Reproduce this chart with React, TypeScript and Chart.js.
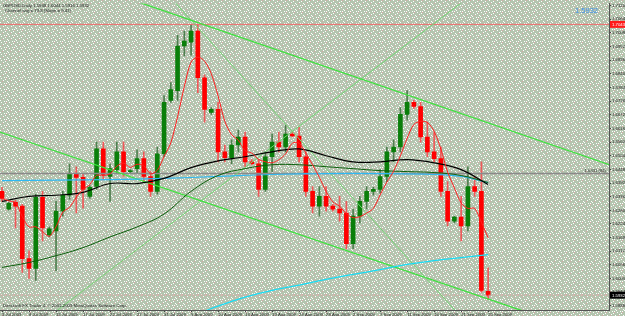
import React, { useEffect, useRef } from 'react';
import { Chart, registerables } from 'chart.js';
Chart.register(...registerables);

// Daily GBPUSD bars, index 0 = 3 Jul 2009 ... index 72 = 25 Sep 2009 (Sunday bars included)
const opens = [1.6358,1.6285,1.6313,1.6297,1.6082,1.6042,1.6333,1.6179,1.6196,1.6277,1.6342,1.6431,1.6415,1.6337,1.6378,1.6532,1.6419,1.6447,1.6520,1.6439,1.6451,1.6492,1.6419,1.6358,1.6512,1.6731,1.6771,1.6954,1.6970,1.7015,1.6824,1.6682,1.6694,1.6520,1.6496,1.6548,1.6581,1.6479,1.6471,1.6366,1.6500,1.6560,1.6540,1.6593,1.6585,1.6500,1.6358,1.6297,1.6337,1.6297,1.6285,1.6269,1.6143,1.6256,1.6317,1.6358,1.6366,1.6419,1.6520,1.6540,1.6674,1.6723,1.6706,1.6581,1.6520,1.6492,1.6358,1.6236,1.6252,1.6216,1.6378,1.6358,1.5948];
const highs = [1.6374,1.6313,1.6321,1.6305,1.6114,1.6346,1.6358,1.6212,1.6317,1.6358,1.6471,1.6459,1.6431,1.6382,1.6560,1.6560,1.6471,1.6560,1.6560,1.6447,1.6528,1.6520,1.6439,1.6540,1.6751,1.6804,1.6998,1.7015,1.7043,1.7040,1.6836,1.6702,1.6723,1.6548,1.6569,1.6609,1.6601,1.6488,1.6488,1.6520,1.6593,1.6601,1.6629,1.6601,1.6621,1.6520,1.6378,1.6378,1.6378,1.6305,1.6337,1.6317,1.6285,1.6337,1.6378,1.6374,1.6447,1.6540,1.6569,1.6702,1.6771,1.6731,1.6723,1.6642,1.6601,1.6540,1.6398,1.6256,1.6337,1.6459,1.6419,1.6479,1.6044];
const lows = [1.6317,1.6281,1.6208,1.6025,1.6001,1.5993,1.6155,1.6171,1.6033,1.6256,1.6325,1.6269,1.6289,1.6329,1.6366,1.6406,1.6317,1.6431,1.6419,1.6431,1.6431,1.6398,1.6337,1.6346,1.6500,1.6723,1.6731,1.6913,1.6917,1.6763,1.6642,1.6674,1.6479,1.6479,1.6471,1.6520,1.6459,1.6467,1.6337,1.6358,1.6439,1.6520,1.6520,1.6581,1.6479,1.6337,1.6269,1.6256,1.6277,1.6277,1.6236,1.6123,1.6123,1.6228,1.6285,1.6342,1.6350,1.6398,1.6479,1.6520,1.6650,1.6698,1.6560,1.6500,1.6479,1.6337,1.6216,1.6228,1.6155,1.6196,1.6337,1.5944,1.5916];
const closes = [1.6329,1.6309,1.6297,1.6082,1.6042,1.6333,1.6208,1.6204,1.6277,1.6342,1.6431,1.6415,1.6366,1.6374,1.6532,1.6427,1.6451,1.6520,1.6439,1.6443,1.6492,1.6419,1.6358,1.6512,1.6723,1.6775,1.6954,1.6974,1.7015,1.6824,1.6694,1.6694,1.6520,1.6496,1.6548,1.6581,1.6479,1.6471,1.6366,1.6500,1.6560,1.6540,1.6593,1.6585,1.6500,1.6358,1.6297,1.6337,1.6297,1.6285,1.6269,1.6143,1.6256,1.6317,1.6358,1.6366,1.6419,1.6520,1.6540,1.6674,1.6723,1.6706,1.6581,1.6520,1.6492,1.6358,1.6236,1.6252,1.6216,1.6378,1.6358,1.5952,1.5932];

// x-axis date labels, one every 4 bars
const dateLabels = ['3 Jul 2009','8 Jul 2009','13 Jul 2009','17 Jul 2009','22 Jul 2009','27 Jul 2009','31 Jul 2009','5 Aug 2009','10 Aug 2009','14 Aug 2009','19 Aug 2009','24 Aug 2009','28 Aug 2009','2 Sep 2009','7 Sep 2009','11 Sep 2009','16 Sep 2009','21 Sep 2009','25 Sep 2009'];
// price axis labels
const priceTicks = [1.7120,1.7064,1.7008,1.6952,1.6896,1.6840,1.6784,1.6728,1.6672,1.6616,1.6560,1.6504,1.6448,1.6392,1.6336,1.6280,1.6224,1.6168,1.6112,1.6056,1.6000,1.5944,1.5888];

// slow moving averages
const maIdx = [0,4,8,12,16,20,24,28,32,36,40,44,48,52,56,60,64,68,72];
const blackMA = [1.6317,1.6337,1.6342,1.6354,1.6390,1.6390,1.6411,1.6455,1.6483,1.6500,1.6520,1.6532,1.6504,1.6479,1.6479,1.6488,1.6475,1.6447,1.6386];
const greenMA = [1.6046,1.6066,1.6094,1.6127,1.6171,1.6212,1.6265,1.6358,1.6423,1.6451,1.6467,1.6467,1.6459,1.6451,1.6443,1.6439,1.6435,1.6423,1.6394];
const cyanUpIdx = [0,8,16,24,32,40,48,56,64,68,72];
const cyanUp = [1.6402,1.6404,1.6406,1.6411,1.6419,1.6427,1.6431,1.6431,1.6427,1.6419,1.6394];
const cyanLowIdx = [30,32,36,40,44,48,52,56,60,64,68,72];
const cyanLow = [1.5867,1.5887,1.5924,1.5952,1.5973,1.5997,1.6017,1.6037,1.6058,1.6074,1.6086,1.6098];

// trend lines (bar index, price)
const trendA = [[14.5,1.7189],[96,1.6409]];
const trendB = [[23.4,1.7200],[69.33,1.5802]];
const trendC = [[-1.78,1.6615],[96,1.5689]];
const trendD = [[5.63,1.5816],[70.8,1.7190]];

const highLevel = 1.7043;
const greyLevel = 1.6431;
const lastPrice = 1.5932;

const FONT = '"Liberation Sans", Arial, sans-serif';

function makePattern(ctx: CanvasRenderingContext2D) {
  const t = document.createElement('canvas');
  t.width = 8; t.height = 6;
  const c = t.getContext('2d')!;
  c.fillStyle = '#b4c5af';
  c.fillRect(0, 0, 8, 6);
  c.fillStyle = '#ffffff';
  [[1,0],[5,1],[3,2],[7,3],[0,4],[4,5],[6,5]].forEach(([x,y]) => c.fillRect(x, y, 1, 1));
  c.fillStyle = '#d8a6a6';
  [[6,0],[2,3]].forEach(([x,y]) => c.fillRect(x, y, 1, 1));
  return ctx.createPattern(t, 'repeat');
}

export default function App() {
  const ref = useRef<HTMLCanvasElement>(null);
  useEffect(() => {
    document.body.style.margin = '0';
    const canvas = ref.current!;
    const ctx0 = canvas.getContext('2d')!;
    const pattern = makePattern(ctx0);

    const redMA = closes.map((_, i) => {
      const s = closes.slice(Math.max(0, i - 4), i + 1);
      return s.reduce((a, b) => a + b, 0) / s.length;
    });
    const bull = closes.map((c, i) => c >= opens[i]);

    const pts = (arr: number[][]) => arr.map(([x, y]) => ({ x, y }));
    const hline = (v: number) => [{ x: -2, y: v }, { x: 92, y: v }];
    const lineDs = (data: any[], color: string, width: number, order: number, extra: any = {}) => ({
      type: 'line', data, borderColor: color, borderWidth: width, pointRadius: 0, fill: false, order, ...extra,
    });

    const bgPlugin = {
      id: 'mtbg',
      beforeDraw(chart: any) {
        const c = chart.ctx;
        c.save();
        c.fillStyle = pattern as any;
        c.fillRect(0, 0, chart.width, chart.height);
        c.restore();
      },
      afterDraw(chart: any) {
        const c = chart.ctx;
        const ys = chart.scales.y;
        const right = chart.chartArea.right;
        c.save();
        c.textBaseline = 'alphabetic';
        c.fillStyle = '#1a1a1a';
        c.font = `4.3px ${FONT}`;
        c.textAlign = 'left';
        c.fillText(`GBPUSD,Daily ${opens[72].toFixed(4)} ${highs[72].toFixed(4)} ${lows[72].toFixed(4)} ${closes[72].toFixed(4)}`, 3, 6.5);
        c.fillText('Channel ang = 73.8 (Slope = 9.41)', 5, 12);
        c.fillText('Directsoft FX Trader 4, \u00a9 2001-2009 MetaQuotes Software Corp.', 3, 307);
        c.fillStyle = '#3b8fea';
        c.font = `7.5px ${FONT}`;
        c.textAlign = 'right';
        c.fillText(lastPrice.toFixed(4), 598, 13);
        // grey line label
        const gy = ys.getPixelForValue(greyLevel);
        c.fillStyle = '#333';
        c.font = `4.2px ${FONT}`;
        c.fillText(`${greyLevel.toFixed(4)} (84)`, 606, gy - 1.5);
        // axis price boxes
        const box = (v: number, bg: string) => {
          const y = ys.getPixelForValue(v);
          c.fillStyle = bg;
          c.fillRect(right + 1, y - 3.5, chart.width - right - 1, 7);
          c.fillStyle = '#ffffff';
          c.textAlign = 'left';
          c.textBaseline = 'middle';
          c.font = `4.3px ${FONT}`;
          c.fillText(v.toFixed(4), right + 3, y + 0.3);
        };
        box(highLevel, '#ff1a1a');
        box(lastPrice, '#000000');
        c.restore();
      },
    };

    const chart = new Chart(canvas, {
      type: 'bar',
      data: {
        datasets: [
          lineDs(redMA.map((y, i) => ({ x: i, y })), '#ff1f1f', 1, 1, { tension: 0.3 }),
          lineDs(maIdx.map((x, k) => ({ x, y: blackMA[k] })), '#000000', 1.2, 2, { tension: 0.4 }),
          lineDs(maIdx.map((x, k) => ({ x, y: greenMA[k] })), '#0b5e0b', 1, 2, { tension: 0.4 }),
          lineDs(cyanUpIdx.map((x, k) => ({ x, y: cyanUp[k] })), '#2fb8f2', 1.2, 2, { tension: 0.4 }),
          lineDs(cyanLowIdx.map((x, k) => ({ x, y: cyanLow[k] })), '#19dcf5', 1.2, 2, { tension: 0.4 }),
          lineDs(pts(trendA), '#3ee23e', 1.3, 3),
          lineDs(pts(trendB), '#74d474', 1, 3),
          lineDs(pts(trendC), '#3ee23e', 1.3, 3),
          lineDs(pts(trendD), '#74d474', 1, 3),
          lineDs(hline(highLevel), '#f06a6a', 1, 4),
          lineDs(hline(greyLevel), '#8a8a8a', 1.5, 4),
          lineDs(hline(lastPrice), '#d9a0a0', 1, 4, { borderDash: [2, 2] }),
          {
            type: 'bar',
            data: opens.map((o, i) => ({ x: i, y: [o, closes[i]] })),
            backgroundColor: bull.map(b => (b ? '#0a7f0a' : '#ff0000')),
            borderWidth: 0,
            barThickness: 4,
            minBarLength: 1,
            grouped: false,
            order: 10,
          },
          {
            type: 'bar',
            data: lows.map((l, i) => ({ x: i, y: [l, highs[i]] })),
            backgroundColor: bull.map(b => (b ? '#4f7f4f' : '#ee5a5a')),
            borderWidth: 0,
            barThickness: 1,
            grouped: false,
            order: 11,
          },
        ] as any,
      },
      options: {
        animation: false,
        responsive: false,
        devicePixelRatio: 1,
        events: [],
        layout: { padding: 0 },
        plugins: { legend: { display: false }, tooltip: { enabled: false } },
        scales: {
          x: {
            type: 'linear',
            min: -0.3,
            max: 89.9,
            offset: false,
            grid: { drawOnChartArea: false, tickLength: 2, color: '#444', offset: false },
            border: { color: '#555' },
            ticks: {
              autoSkip: false,
              maxRotation: 0,
              align: 'start',
              padding: 0,
              color: '#222',
              font: { size: 4.2, family: FONT },
              callback: (v: any) => dateLabels[Math.round(v / 4)] ?? '',
            },
            afterBuildTicks: (s: any) => { s.ticks = dateLabels.map((_, k) => ({ value: k * 4 })); },
            afterFit: (s: any) => { s.height = 6; },
          },
          y: {
            type: 'linear',
            position: 'right',
            min: 1.58712,
            max: 1.71282,
            grid: { drawOnChartArea: false, tickLength: 2, color: '#444' },
            border: { color: '#555' },
            ticks: {
              autoSkip: false,
              padding: 1,
              color: '#222',
              font: { size: 4.3, family: FONT },
              callback: (v: any) => Number(v).toFixed(4),
            },
            afterBuildTicks: (s: any) => { s.ticks = priceTicks.map(v => ({ value: v })); },
            afterFit: (s: any) => { s.width = 16; },
          },
        },
      } as any,
      plugins: [bgPlugin],
    });
    return () => chart.destroy();
  }, []);
  return (
    <div style={{ width: 625, height: 316, position: 'relative' }}>
      <canvas ref={ref} width={625} height={316} style={{ display: 'block', width: 625, height: 316 }} />
    </div>
  );
}
